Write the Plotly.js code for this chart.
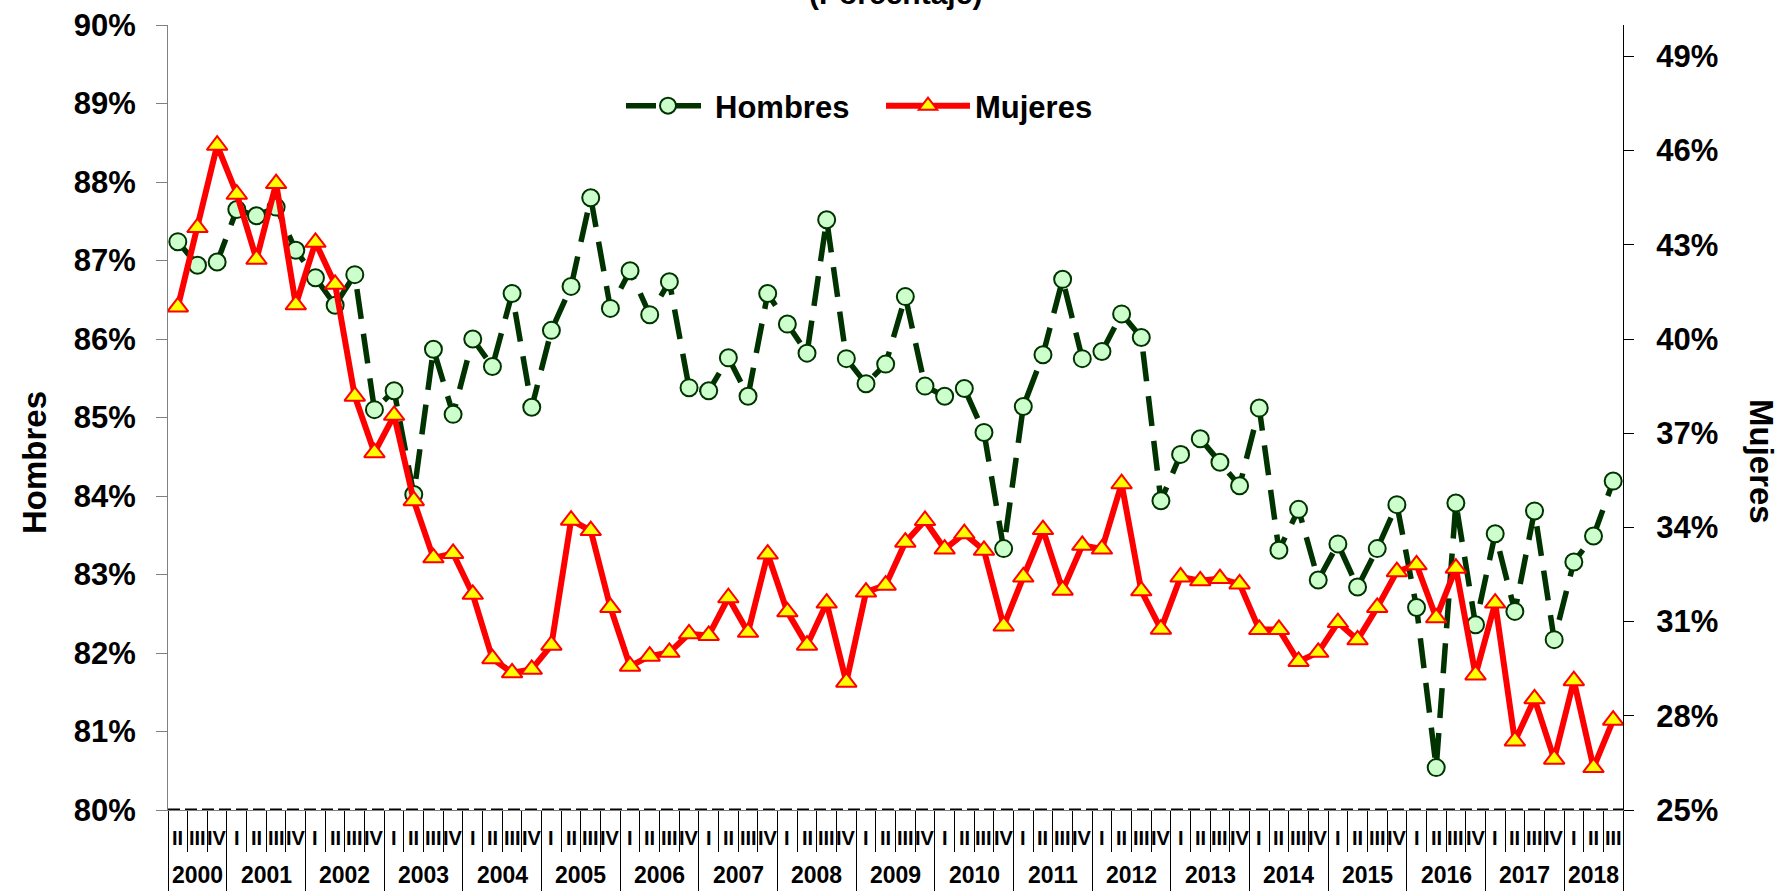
<!DOCTYPE html>
<html>
<head>
<meta charset="utf-8">
<script src="https://cdn.plot.ly/plotly-3.0.1.min.js"></script>
<style>
html,body{margin:0;padding:0;background:#ffffff;}
#chart{width:1785px;height:891px;}
</style>
</head>
<body>
<div id="chart"></div>
<script>
// ---- data ----
const years = [2000,2001,2002,2003,2004,2005,2006,2007,2008,2009,2010,2011,2012,2013,2014,2015,2016,2017,2018];
const firstQuarter = 2; // series starts in quarter II of 2000
const quarterNames = ['I','II','III','IV'];
const seriesNames = ['Hombres','Mujeres'];
const subtitle = '(Porcentaje)';

const hombres = [
  87.24,86.94,86.98,
  87.65,87.57,87.68,87.13,
  86.78,86.43,86.82,85.10,
  85.34,84.02,85.87,85.04,
  86.00,85.65,86.58,85.13,
  86.11,86.67,87.80,86.39,
  86.87,86.31,86.73,85.38,
  85.34,85.76,85.27,86.58,
  86.19,85.82,87.52,85.75,
  85.43,85.68,86.54,85.40,
  85.27,85.37,84.81,83.33,
  85.14,85.80,86.76,85.75,
  85.84,86.32,86.02,83.94,
  84.53,84.73,84.43,84.13,
  85.12,83.31,83.83,82.93,
  83.39,82.84,83.33,83.89,
  82.58,80.54,83.91,82.36,
  83.52,82.53,83.81,82.17,
  83.16,83.49,84.19
];
const mujeres = [
  41.02,43.55,46.17,
  44.61,42.54,44.95,41.09,
  43.08,41.74,38.18,36.38,
  37.57,34.85,33.03,33.17,
  31.87,29.82,29.37,29.48,
  30.25,34.23,33.90,31.45,
  29.58,29.90,30.02,30.61,
  30.56,31.76,30.66,33.15,
  31.31,30.25,31.59,29.07,
  31.94,32.16,33.53,34.22,
  33.31,33.80,33.27,30.86,
  32.42,33.93,32.00,33.43,
  33.31,35.39,31.98,30.76,
  32.42,32.30,32.37,32.20,
  30.75,30.75,29.73,30.02,
  30.97,30.42,31.45,32.59,
  32.81,31.12,32.70,29.30,
  31.59,27.20,28.54,26.62,
  29.12,26.35,27.86
];

// ---- derived period labels ----
const n = hombres.length;
const xIdx = [], periodQuarter = [], periodYear = [];
{
  let q = firstQuarter - 1, yi = 0;
  for (let i = 0; i < n; i++) {
    xIdx.push(i);
    periodQuarter.push(quarterNames[q]);
    periodYear.push(years[yi]);
    q++; if (q === 4) { q = 0; yi++; }
  }
}
const yearSpans = [];
years.forEach(y => {
  const idx = xIdx.filter(i => periodYear[i] === y);
  if (idx.length) yearSpans.push({year: y, first: idx[0], last: idx[idx.length - 1]});
});
const yearBoundaries = [-0.5].concat(yearSpans.map(s => s.last + 0.5));
const quarterBoundaries = xIdx.map(i => i - 0.5).concat([n - 0.5]);

// ---- style ----
const FONT = 'Liberation Sans, Arial, sans-serif';
const NARROW = '"Liberation Sans Narrow", "Arial Narrow", "Liberation Sans", Arial, sans-serif';
const W = 1785, H = 891;
const M = {l: 168, r: 162, t: 25, b: 81};
const plotW = W - M.l - M.r;
const plotH = H - M.t - M.b;
const pxToPaperY = px => (H - M.b - px) / plotH; // px measured from top of figure
const pxToPaperX = px => (px - M.l) / plotW;

const traces = [
  {
    x: xIdx, y: hombres, name: seriesNames[0], yaxis: 'y', type: 'scatter',
    mode: 'lines+markers',
    line: {color: '#003300', width: 5.5, dash: '30px,15px'},
    marker: {symbol: 'circle', size: 17, color: '#ccffcc', line: {color: '#003300', width: 2}},
    cliponaxis: false
  },
  {
    x: xIdx, y: mujeres, name: seriesNames[1], yaxis: 'y2', type: 'scatter',
    mode: 'lines+markers',
    line: {color: '#ff0000', width: 6},
    marker: {symbol: 'triangle-up', size: 18, color: '#ffff00', line: {color: '#ff0000', width: 2}},
    cliponaxis: false
  }
];

const annotations = [];
xIdx.forEach(i => {
  annotations.push({
    x: i, xref: 'x', y: pxToPaperY(838), yref: 'paper', yanchor: 'middle', xanchor: 'center',
    text: periodQuarter[i], showarrow: false,
    font: {family: NARROW, size: 20, color: '#000', weight: 'bold'}
  });
});
yearSpans.forEach(s => {
  annotations.push({
    x: (s.first + s.last) / 2, xref: 'x', y: pxToPaperY(875), yref: 'paper', yanchor: 'middle', xanchor: 'center',
    text: String(s.year), showarrow: false,
    font: {family: NARROW, size: 23, color: '#000', weight: 'bold'}
  });
});
annotations.push({
  x: 0.5, xref: 'paper', y: pxToPaperY(12), yref: 'paper', yanchor: 'bottom', xanchor: 'center',
  text: subtitle, showarrow: false,
  font: {family: FONT, size: 30, color: '#000', weight: 'bold'}
});
annotations.push({
  x: pxToPaperX(34), xref: 'paper', y: pxToPaperY(463), yref: 'paper',
  xanchor: 'center', yanchor: 'middle',
  text: seriesNames[0], textangle: -90, showarrow: false,
  font: {family: FONT, size: 33, color: '#000', weight: 'bold'}
});
annotations.push({
  x: pxToPaperX(1762), xref: 'paper', y: pxToPaperY(461), yref: 'paper',
  xanchor: 'center', yanchor: 'middle',
  text: seriesNames[1], textangle: 90, showarrow: false,
  font: {family: FONT, size: 33, color: '#000', weight: 'bold'}
});

const layout = {
  width: W, height: H,
  margin: {l: M.l, r: M.r, t: M.t, b: M.b, pad: 0},
  paper_bgcolor: '#ffffff', plot_bgcolor: '#ffffff',
  font: {family: FONT, color: '#000'},
  showlegend: true,
  legend: {
    orientation: 'h', x: pxToPaperX(621), xanchor: 'left',
    y: pxToPaperY(106), yanchor: 'middle',
    font: {family: FONT, size: 31, color: '#000', weight: 'bold'},
    bgcolor: 'rgba(0,0,0,0)', entrywidth: 161, entrywidthmode: 'pixels',
    itemwidth: 84, traceorder: 'normal'
  },
  xaxis: {
    range: [-0.5, n - 0.5], showgrid: false, zeroline: false,
    showline: true, linecolor: '#808080', linewidth: 1,
    showticklabels: false,
    tickmode: 'array', tickvals: yearBoundaries,
    ticks: 'outside', ticklen: 81, tickcolor: '#000', tickwidth: 1,
    minor: {tickmode: 'array', tickvals: quarterBoundaries, ticks: 'outside', ticklen: 41, tickcolor: '#000', tickwidth: 1, showgrid: false}
  },
  yaxis: {
    range: [80, 90], tick0: 80, dtick: 1, ticksuffix: '%',
    showgrid: false, zeroline: false,
    showline: true, linecolor: '#808080', linewidth: 1,
    ticks: 'outside', ticklen: 11, tickcolor: '#808080', tickwidth: 1,
    ticklabelstandoff: 14,
    tickfont: {family: FONT, size: 31, color: '#000', weight: 'bold'}
  },
  yaxis2: {
    overlaying: 'y', side: 'right',
    range: [25, 50], tick0: 25, dtick: 3, ticksuffix: '%',
    showgrid: false, zeroline: false,
    showline: true, linecolor: '#000', linewidth: 1,
    ticks: 'outside', ticklen: 10, tickcolor: '#000', tickwidth: 1,
    ticklabelstandoff: 16,
    tickfont: {family: FONT, size: 31, color: '#000', weight: 'bold'}
  },
  shapes: [
    {type: 'line', xref: 'paper', x0: 0, x1: 1, yref: 'y', y0: 80, y1: 80,
     line: {color: '#000', width: 3, dash: '12px,5px'}, layer: 'above'}
  ],
  annotations: annotations
};

Plotly.newPlot('chart', traces, layout, {displayModeBar: false, staticPlot: true});
</script>
</body>
</html>
